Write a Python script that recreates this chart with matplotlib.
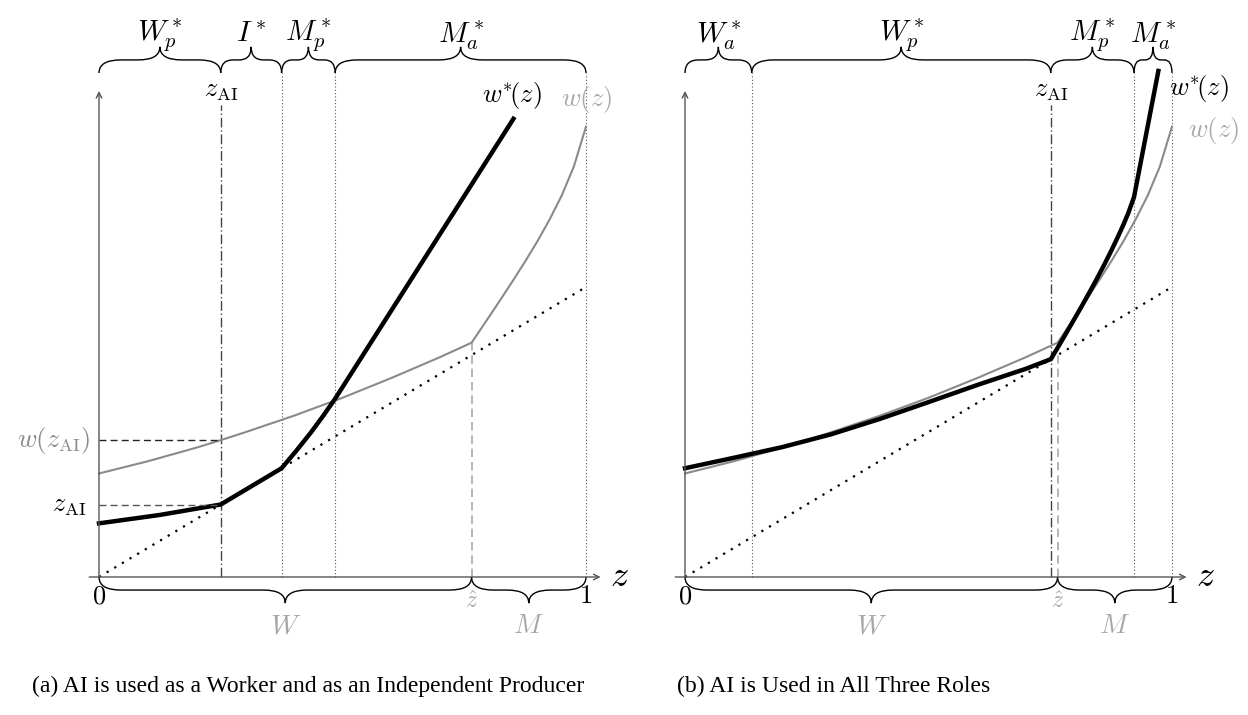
import matplotlib
matplotlib.use("Agg")
import matplotlib.pyplot as plt
from matplotlib.path import Path
from matplotlib.patches import PathPatch

plt.rcParams['mathtext.fontset'] = 'cm'
plt.rcParams['font.family'] = ['Liberation Serif', 'DejaVu Serif']

# key points on the z axis
z_hat = 0.765
z_ai_a = 0.25
z_ai_b = 0.751

# w(z): same curve in both panels
w_z = [0, 0.1, 0.2, 0.25, 0.3, 0.4, 0.5, 0.6, 0.7, 0.765,
       0.78, 0.8, 0.825, 0.85, 0.875, 0.9, 0.925, 0.95, 0.975, 1.0]
w_vals = [0.357, 0.399, 0.446, 0.472, 0.499, 0.556, 0.618, 0.686, 0.758, 0.808,
          0.845, 0.895, 0.958, 1.022, 1.088, 1.157, 1.232, 1.315, 1.415, 1.553]

# w*(z), panel (a)
a_z = [0, 0.125, 0.25, 0.375, 0.405, 0.435, 0.46, 0.485, 0.851]
a_w = [0.185, 0.214, 0.25, 0.375, 0.435, 0.498, 0.555, 0.615, 1.58]

# w*(z), panel (b)
b_z = [0, 0.1, 0.2, 0.3, 0.4, 0.5, 0.6, 0.7, 0.751, 0.765, 0.78, 0.8, 0.815, 0.83,
       0.845, 0.86, 0.875, 0.89, 0.9, 0.91, 0.922, 0.972]
b_w = [0.375, 0.411, 0.448, 0.492, 0.545, 0.603, 0.662, 0.718, 0.751, 0.79, 0.833,
       0.891, 0.935, 0.98, 1.026, 1.074, 1.124, 1.177, 1.214, 1.254, 1.31, 1.745]

# region boundaries (top braces) and labels
a_cuts = [0, 0.25, 0.375, 0.485, 1.0]
a_regions = [r'$W_p^*$', r'$I^*$', r'$M_p^*$', r'$M_a^*$']
b_cuts = [0, 0.137, 0.751, 0.922, 1.0]
b_regions = [r'$W_a^*$', r'$W_p^*$', r'$M_p^*$', r'$M_a^*$']

captions = ['(a) AI is used as a Worker and as an Independent Producer',
            '(b) AI is Used in All Three Roles']

GRAY = '#8a8a8a'
LGRAY = '#a8a8a8'
AXC = '#555555'


def brace(ax, x0, x1, y, h, r=0.045):
    r = min(r, (x1 - x0) / 5)
    xm = (x0 + x1) / 2
    ym = y + h / 2
    verts = [(x0, y), (x0, ym), (x0 + r, ym),
             (xm - r, ym), (xm, ym), (xm, y + h),
             (xm, ym), (xm + r, ym),
             (x1 - r, ym), (x1, ym), (x1, y)]
    codes = [Path.MOVETO, Path.CURVE3, Path.CURVE3, Path.LINETO, Path.CURVE3, Path.CURVE3,
             Path.CURVE3, Path.CURVE3, Path.LINETO, Path.CURVE3, Path.CURVE3]
    ax.add_patch(PathPatch(Path(verts, codes), fill=False, lw=1.0, color='black'))


def base_panel(ax, cuts, regions, z_ai, wstar_z, wstar_w):
    ax.axis('off')
    # axes with arrows
    ax.annotate('', xy=(1.03, 0), xytext=(-0.02, 0),
                arrowprops=dict(arrowstyle='->', color=AXC, lw=1.0, shrinkA=0, shrinkB=0))
    ax.annotate('', xy=(0, 1.676), xytext=(0, 0),
                arrowprops=dict(arrowstyle='->', color=AXC, lw=1.0, shrinkA=0, shrinkB=0))
    ax.text(1.068, 0, r'$z$', fontsize=26, ha='center', va='center')

    # 45 degree line
    ax.plot([0, 1], [0, 1], color='black', lw=1.6, ls=(0, (1, 3)))

    # dotted region boundaries
    for c in cuts[1:]:
        if abs(c - z_ai) > 1e-6:
            ax.plot([c, c], [0, 1.738], color=AXC, lw=0.8, ls=(0, (1, 2)))
    # z_AI dash-dot
    ax.plot([z_ai, z_ai], [0, 1.628], color='#444444', lw=1.0, ls=(0, (7, 2, 1, 2)))
    ax.text(z_ai, 1.672, r'$z_{\mathrm{AI}}$', fontsize=19, ha='center', va='center')
    # z hat dashed
    ax.plot([z_hat, z_hat], [0, w_vals[w_z.index(z_hat)]], color=LGRAY, lw=1.2, ls=(0, (5, 3)))

    # curves
    ax.plot(w_z, w_vals, color=GRAY, lw=1.5)
    ax.plot(wstar_z, wstar_w, color='black', lw=3.2, solid_joinstyle='miter')

    # top braces
    for i, lab in enumerate(regions):
        brace(ax, cuts[i], cuts[i + 1], 1.738, 0.09)
        ax.text((cuts[i] + cuts[i + 1]) / 2, 1.868, lab, fontsize=21, ha='center', va='center')

    # bottom braces
    brace(ax, 0, z_hat, 0, -0.09)
    brace(ax, z_hat, 1.0, 0, -0.09)
    ax.text(z_hat / 2, -0.172, r'$W$', fontsize=20, ha='center', va='center', color=LGRAY)
    ax.text((z_hat + 1) / 2, -0.172, r'$M$', fontsize=20, ha='center', va='center', color=LGRAY)
    ax.text(0, -0.07, r'$0$', fontsize=19, ha='center', va='center')
    ax.text(1, -0.07, r'$1$', fontsize=19, ha='center', va='center')
    ax.text(z_hat, -0.085, r'$\hat{z}$', fontsize=17, ha='center', va='center', color=LGRAY)


fig = plt.figure(figsize=(12.48, 7.15), dpi=100)
ax1 = fig.add_axes([0, 0, 0.5, 1])
ax2 = fig.add_axes([0.5, 0, 0.5, 1])
ax1.set_xlim(-99 / 487, 525 / 487)
ax2.set_xlim(-61 / 487, 563 / 487)
for ax in (ax1, ax2):
    ax.set_ylim(-138 / 290, 577 / 290)

# panel (a)
base_panel(ax1, a_cuts, a_regions, z_ai_a, a_z, a_w)
w_at_ai = w_vals[w_z.index(z_ai_a)]
ax1.plot([0, z_ai_a], [w_at_ai, w_at_ai], color='#222222', lw=1.0, ls=(0, (5, 3)))
ax1.plot([0, z_ai_a], [z_ai_a, z_ai_a], color='#555555', lw=1.0, ls=(0, (5, 3)))
ax1.text(-0.018, w_at_ai, r'$w(z_{\mathrm{AI}})$', fontsize=19, ha='right', va='center', color=GRAY)
ax1.text(-0.025, z_ai_a - 0.008, r'$z_{\mathrm{AI}}$', fontsize=19, ha='right', va='center')
ax1.text(0.848, 1.66, r'$w^{*}\!(z)$', fontsize=19, ha='center', va='center')
ax1.text(1.0, 1.645, r'$w(z)$', fontsize=19, ha='center', va='center', color=LGRAY)

# panel (b)
base_panel(ax2, b_cuts, b_regions, z_ai_b, b_z, b_w)
ax2.text(1.055, 1.685, r'$w^{*}\!(z)$', fontsize=19, ha='center', va='center')
ax2.text(1.085, 1.54, r'$w(z)$', fontsize=19, ha='center', va='center', color=LGRAY)

fig.text(308 / 1248, 1 - 686 / 715, captions[0], fontsize=17, ha='center', va='center')
fig.text(834 / 1248, 1 - 686 / 715, captions[1], fontsize=17, ha='center', va='center')

fig.savefig('out.png', dpi=100)
